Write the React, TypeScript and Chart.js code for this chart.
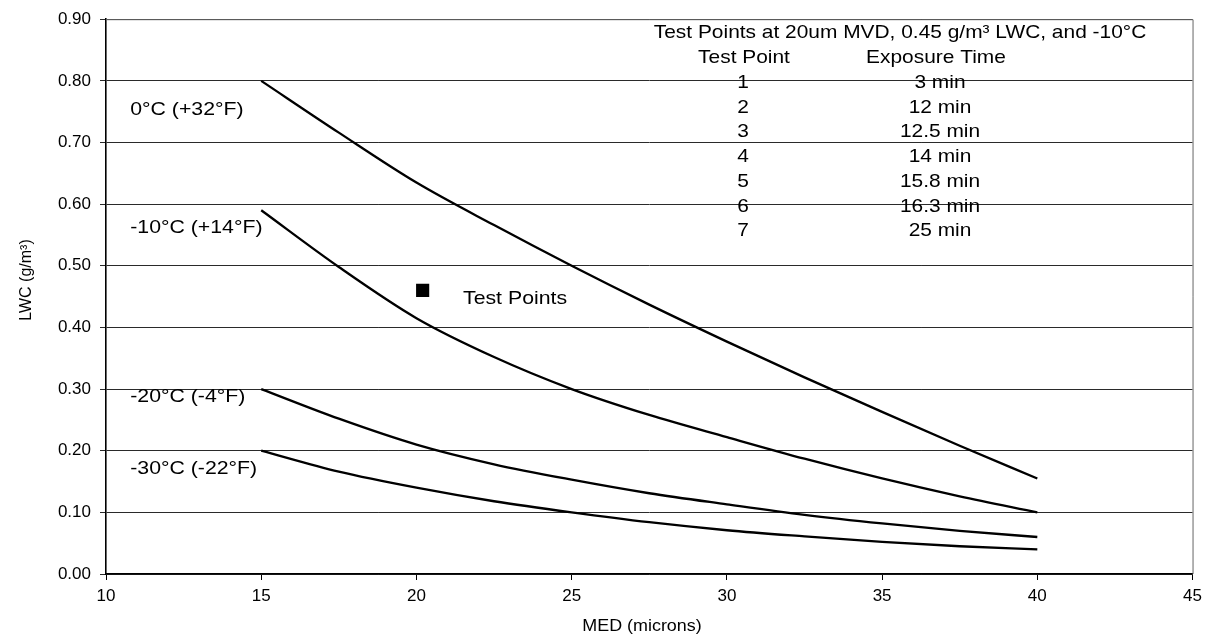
import { useEffect, useRef } from "react";
import { Chart, registerables } from "chart.js";

Chart.register(...registerables);

// ---- data ----
const medMicrons = [15, 17.5, 20, 22.5, 25, 27.5, 30, 32.5, 35, 37.5, 40];
const lwcZeroC = [0.8, 0.716, 0.635, 0.566, 0.5, 0.437, 0.377, 0.319, 0.263, 0.208, 0.155];
const lwcMinus10C = [0.59, 0.498, 0.415, 0.352, 0.3, 0.258, 0.222, 0.187, 0.155, 0.126, 0.1];
const lwcMinus20C = [0.3, 0.252, 0.21, 0.178, 0.153, 0.131, 0.113, 0.096, 0.082, 0.07, 0.06];
const lwcMinus30C = [0.2, 0.166, 0.14, 0.118, 0.1, 0.084, 0.071, 0.061, 0.052, 0.045, 0.04];

const curveLabels = ["0°C (+32°F)", "-10°C (+14°F)", "-20°C (-4°F)", "-30°C (-22°F)"];

const testPointMed = [20.2];
const testPointLwc = [0.46];
const testPointLabel = "Test Points";

const tableTitle = "Test Points at 20um MVD, 0.45 g/m³ LWC, and -10°C";
const tableHeaders = ["Test Point", "Exposure Time"];
const testPointIds = ["1", "2", "3", "4", "5", "6", "7"];
const exposureTimes = ["3 min", "12 min", "12.5 min", "14 min", "15.8 min", "16.3 min", "25 min"];

const xAxisTitle = "MED (microns)";
const yAxisTitle = "LWC (g/m³)";

const xMin = 10;
const xMax = 45;
const xStep = 5;
const yMin = 0;
const yMax = 0.9;
const yStep = 0.1;

// ---- layout / style (not data) ----
const FONT = "'Liberation Sans', Arial, Helvetica, sans-serif";
const SX = 1.12; // horizontal glyph stretch seen in the reference

function stretchText(
  ctx: CanvasRenderingContext2D,
  text: string,
  x: number,
  y: number,
  align: CanvasTextAlign,
  size: number,
  sx: number = SX
) {
  ctx.save();
  ctx.translate(x, y);
  ctx.scale(sx, 1);
  ctx.font = `${size}px ${FONT}`;
  ctx.fillStyle = "#000";
  ctx.textAlign = align;
  ctx.textBaseline = "middle";
  ctx.fillText(text, 0, 0);
  ctx.restore();
}

const annotationPlugin = {
  id: "annotations",
  afterDraw(chart: any) {
    const { ctx, chartArea } = chart;
    const xs = chart.scales.x;
    const ys = chart.scales.y;

    // top and right frame lines
    ctx.save();
    ctx.strokeStyle = "#666";
    ctx.lineWidth = 1;
    ctx.beginPath();
    ctx.moveTo(chartArea.left, chartArea.top + 0.5);
    ctx.lineTo(chartArea.right + 0.5, chartArea.top + 0.5);
    ctx.lineTo(chartArea.right + 0.5, chartArea.bottom);
    ctx.stroke();
    ctx.restore();

    // curve labels (placed in data space, left of the curve starts)
    const labelY = [0.753, 0.561, 0.287, 0.171];
    curveLabels.forEach((t, i) => {
      stretchText(ctx, t, xs.getPixelForValue(10.78), ys.getPixelForValue(labelY[i]), "left", 19);
    });

    // test point label
    stretchText(ctx, testPointLabel, xs.getPixelForValue(21.5), ys.getPixelForValue(0.447), "left", 19);

    // table
    const top = chartArea.top;
    const titleY = top + 14;
    const step = 24.75;
    const col1 = 743;
    const col2 = 940;
    const ts = 18.5;
    stretchText(ctx, tableTitle, 900, titleY, "center", ts, 1.13);
    stretchText(ctx, tableHeaders[0], col1 + 1, titleY + step, "center", ts, 1.13);
    stretchText(ctx, tableHeaders[1], col2 - 4, titleY + step, "center", ts, 1.13);
    testPointIds.forEach((id, i) => {
      const y = titleY + step * (i + 2);
      stretchText(ctx, id, col1, y, "center", ts, 1.13);
      stretchText(ctx, exposureTimes[i], col2, y, "center", ts, 1.13);
    });

    // axis titles
    stretchText(ctx, xAxisTitle, 642, 627, "center", 16);
    ctx.save();
    ctx.translate(27, 280);
    ctx.rotate(-Math.PI / 2);
    ctx.font = `16px ${FONT}`;
    ctx.fillStyle = "#000";
    ctx.textAlign = "center";
    ctx.textBaseline = "middle";
    ctx.fillText(yAxisTitle, 0, 0);
    ctx.restore();
  },
};

function toPoints(xs: number[], ys: number[]) {
  return xs.map((x, i) => ({ x, y: ys[i] }));
}

export default function App() {
  const canvasRef = useRef<HTMLCanvasElement | null>(null);

  useEffect(() => {
    const canvas = canvasRef.current;
    if (!canvas) return;
    Chart.defaults.font.family = FONT;
    Chart.defaults.color = "#000";

    const curveStyle = {
      borderColor: "#000",
      borderWidth: 2.3,
      pointRadius: 0,
      fill: false,
      cubicInterpolationMode: "monotone" as const,
    };

    const chart = new Chart(canvas, {
      type: "line",
      data: {
        datasets: [
          { label: curveLabels[0], data: toPoints(medMicrons, lwcZeroC), ...curveStyle },
          { label: curveLabels[1], data: toPoints(medMicrons, lwcMinus10C), ...curveStyle },
          { label: curveLabels[2], data: toPoints(medMicrons, lwcMinus20C), ...curveStyle },
          { label: curveLabels[3], data: toPoints(medMicrons, lwcMinus30C), ...curveStyle },
          {
            label: testPointLabel,
            data: toPoints(testPointMed, testPointLwc),
            showLine: false,
            pointStyle: "rect",
            pointRadius: 9.3,
            pointBackgroundColor: "#000",
            pointBorderColor: "#000",
            pointBorderWidth: 0,
          },
        ],
      },
      options: {
        animation: false,
        responsive: false,
        devicePixelRatio: 1,
        layout: { padding: { left: 0, top: 16, right: 14, bottom: 0 } },
        plugins: {
          legend: { display: false },
          tooltip: { enabled: false },
        },
        scales: {
          x: {
            type: "linear",
            min: xMin,
            max: xMax,
            afterFit: (s: any) => {
              s.height = 65;
            },
            ticks: {
              stepSize: xStep,
              padding: 6,
              font: { size: 17, family: FONT },
              color: "#000",
              maxRotation: 0,
            },
            grid: {
              drawOnChartArea: false,
              drawTicks: true,
              tickLength: 6,
              color: "#000",
              lineWidth: 1,
            },
            border: { display: true, color: "#000", width: 1.6 },
          },
          y: {
            type: "linear",
            min: yMin,
            max: yMax,
            afterFit: (s: any) => {
              s.width = 106;
            },
            ticks: {
              stepSize: yStep,
              padding: 9,
              font: { size: 17, family: FONT },
              color: "#000",
              callback: (v: any) => Number(v).toFixed(2),
            },
            grid: {
              drawOnChartArea: true,
              drawTicks: true,
              tickLength: 6,
              color: "#2a2a2a",
              lineWidth: 1,
            },
            border: { display: true, color: "#000", width: 1.6 },
          },
        },
      },
      plugins: [annotationPlugin],
    });

    return () => chart.destroy();
  }, []);

  return (
    <div style={{ position: "absolute", left: 0, top: 0, width: 1208, height: 639, background: "#fff" }}>
      <canvas ref={canvasRef} width={1208} height={639} style={{ display: "block" }} />
    </div>
  );
}
